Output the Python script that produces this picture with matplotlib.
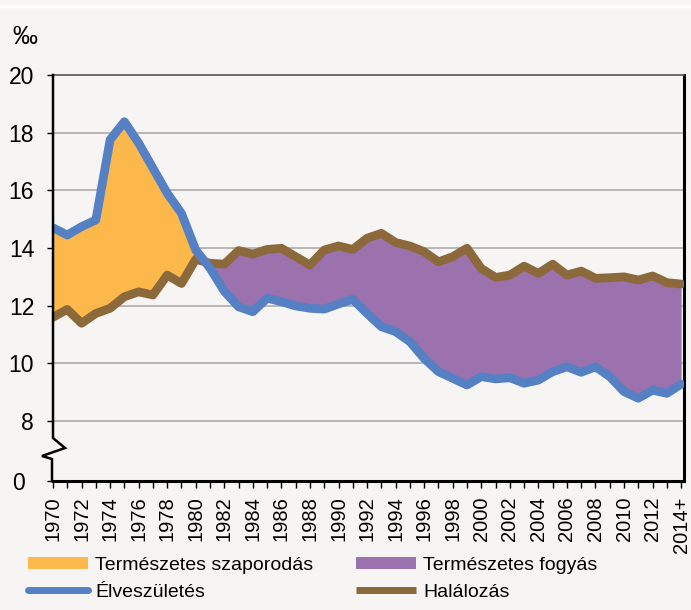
import matplotlib
matplotlib.use("Agg")
import matplotlib.pyplot as plt
from matplotlib.lines import Line2D
from matplotlib import font_manager
import matplotlib.transforms as mtransforms
import numpy as np

names = {f.name for f in font_manager.fontManager.ttflist}
FONT = "Liberation Sans Narrow" if "Liberation Sans Narrow" in names else "Liberation Sans"
plt.rcParams['font.family'] = [FONT, 'DejaVu Sans']

years = list(range(1970, 2015))
year_labels = [str(y) for y in range(1970, 2013, 2)] + ["2014+"]

births = [14.70, 14.45, 14.74, 14.97, 17.75, 18.38, 17.64, 16.77, 15.90, 15.20,
          13.93, 13.30, 12.50, 11.96, 11.79, 12.26, 12.14, 11.99, 11.91, 11.88,
          12.06, 12.22, 11.73, 11.27, 11.10, 10.75, 10.17, 9.71, 9.48, 9.25,
          9.54, 9.46, 9.50, 9.31, 9.42, 9.71, 9.88, 9.69, 9.88, 9.54,
          9.02, 8.79, 9.07, 8.96, 9.28]
deaths = [11.60, 11.87, 11.39, 11.73, 11.91, 12.31, 12.48, 12.37, 13.06, 12.77,
          13.61, 13.47, 13.44, 13.91, 13.79, 13.95, 13.99, 13.70, 13.41, 13.93,
          14.07, 13.95, 14.34, 14.51, 14.19, 14.07, 13.87, 13.52, 13.70, 13.99,
          13.29, 12.98, 13.06, 13.37, 13.12, 13.44, 13.06, 13.20, 12.95, 12.97,
          13.00, 12.89, 13.03, 12.80, 12.75]

ytick_vals = [5.92, 8, 10, 12, 14, 16, 18, 20]
ytick_labels = ["0", "8", "10", "12", "14", "16", "18", "20"]

legend_labels = ["Természetes szaporodás", "Élveszületés", "Természetes fogyás", "Halálozás"]

BG = "#f6f5f3"
ORANGE = "#fdb84b"
PURPLE = "#9b71ae"
BLUE = "#5580c3"
BROWN = "#8c693b"

fig = plt.figure(figsize=(6.91, 6.10), dpi=100, facecolor=BG)
L, R, T, B = 53, 684, 75, 481
ax = fig.add_axes([L/691, 1 - B/610, (R-L)/691, (B-T)/610])
ax.set_facecolor(BG)

x = np.array(years, dtype=float)
b = np.array(births)
d = np.array(deaths)

ax.fill_between(x, d, b, where=b >= d, interpolate=True, color=ORANGE, lw=0, zorder=2)
ax.fill_between(x, d, b, where=b <= d, interpolate=True, color=PURPLE, lw=0, zorder=2)
ax.plot(x, b, color=BLUE, lw=6.3, solid_joinstyle='round', solid_capstyle='round', zorder=4)
ax.plot(x, d, color=BROWN, lw=6.3, solid_joinstyle='round', solid_capstyle='round', zorder=3)

ax.set_ylim(5.92, 20)
ax.set_xlim(1970, 2014.2)

for gv in [8, 10, 12, 14, 16, 18]:
    ax.axhline(gv, color="#a6a6a6", lw=1.1, zorder=1)

ax.set_yticks(ytick_vals)
ax.set_yticklabels(ytick_labels)
ax.set_xticks(list(range(1970, 2015, 2)))
ax.set_xticklabels(year_labels, rotation=90)
ax.set_xticks(years, minor=True)
ax.tick_params(axis='y', direction='out', length=4.5, width=1, labelsize=16.5, pad=9, colors='black')
ax.tick_params(axis='x', which='both', direction='out', length=5, width=1, labelsize=14.5, pad=6)

# the "0" label sits further left in the reference
zero_lab = ax.get_yticklabels()[0]
zero_lab.set_transform(zero_lab.get_transform() +
                       mtransforms.ScaledTranslation(-9/100, 0, fig.dpi_scale_trans))

ax.spines['left'].set_visible(False)
ax.spines['top'].set_color('#555555')
ax.spines['top'].set_linewidth(1.2)
ax.spines['right'].set_color('black')
ax.spines['right'].set_linewidth(2.2)
ax.spines['bottom'].set_color('black')
ax.spines['bottom'].set_linewidth(2.2)

def fx(px):
    return px / 691
def fy(py):
    return 1 - py / 610

# left axis with break
xs = [53, 53, 65, 42, 52, 52]
ys = [75, 438, 448, 456, 459, 481]
fig.add_artist(Line2D([fx(v) for v in xs], [fy(v) for v in ys], color='black', lw=1.8,
                      solid_joinstyle='miter'))

# white line at top
fig.add_artist(Line2D([0, 1], [fy(5.5), fy(5.5)], color='white', lw=2.5))

fig.text(fx(12), fy(37), "‰", fontsize=18, va='center', ha='left')

handles = [
    Line2D([], [], color=ORANGE, lw=8.6, solid_capstyle='butt'),
    Line2D([], [], color=BLUE, lw=5, solid_capstyle='round'),
    Line2D([], [], color=PURPLE, lw=8.6, solid_capstyle='butt'),
    Line2D([], [], color=BROWN, lw=5, solid_capstyle='butt'),
]
leg = fig.legend(handles, legend_labels, ncol=2, loc='upper left',
                 bbox_to_anchor=(fx(28), fy(556)), frameon=False, fontsize=14,
                 handlelength=3.1, handletextpad=0.35, columnspacing=2.2,
                 labelspacing=0.5, borderaxespad=0, borderpad=0)

fig.savefig("out.png", dpi=100, facecolor=BG)
